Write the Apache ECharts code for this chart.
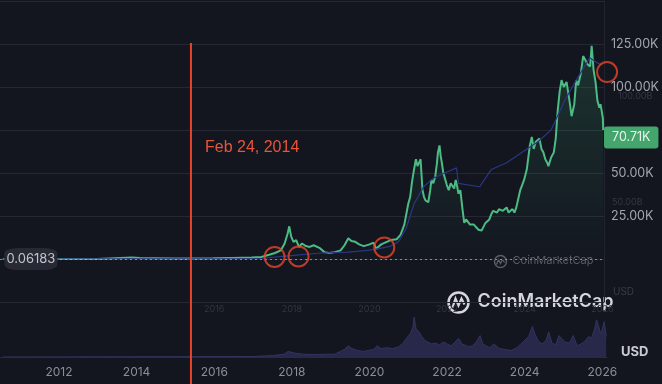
<!DOCTYPE html>
<html><head><meta charset="utf-8">
<script src="https://cdn.jsdelivr.net/npm/echarts@6/dist/echarts.min.js"></script>
<style>html,body{margin:0;padding:0;background:#13151f;}#c{width:662px;height:384px;}</style>
</head><body><div id="c"></div>
<script>
// ---- data ----
const priceYears = [2010.55,2012.0,2013.0,2013.9,2014.1,2014.5,2015.0,2015.5,2016.0,2016.5,2017.0,2017.25,2017.45,2017.6,2017.75,2017.85,2017.93,2017.97,2018.02,2018.08,2018.15,2018.22,2018.3,2018.4,2018.5,2018.6,2018.75,2018.88,2019.0,2019.15,2019.3,2019.4,2019.5,2019.58,2019.68,2019.78,2019.9,2020.05,2020.15,2020.22,2020.35,2020.45,2020.6,2020.75,2020.85,2020.95,2021.05,2021.1,2021.15,2021.2,2021.25,2021.29,2021.32,2021.37,2021.42,2021.46,2021.5,2021.57,2021.62,2021.65,2021.7,2021.75,2021.79,2021.82,2021.86,2021.89,2021.92,2021.96,2022.0,2022.05,2022.1,2022.15,2022.2,2022.24,2022.28,2022.32,2022.35,2022.4,2022.45,2022.5,2022.55,2022.6,2022.65,2022.7,2022.75,2022.8,2022.87,2022.95,2023.0,2023.05,2023.1,2023.15,2023.2,2023.25,2023.3,2023.35,2023.4,2023.45,2023.5,2023.55,2023.6,2023.65,2023.7,2023.75,2023.8,2023.85,2023.9,2023.95,2024.0,2024.05,2024.12,2024.2,2024.25,2024.3,2024.35,2024.4,2024.45,2024.5,2024.55,2024.6,2024.65,2024.68,2024.75,2024.82,2024.87,2024.92,2024.97,2025.02,2025.08,2025.15,2025.22,2025.28,2025.35,2025.4,2025.45,2025.52,2025.58,2025.63,2025.7,2025.76,2025.8,2025.85,2025.9,2025.95,2026.0,2026.03,2026.06,2026.09,2026.1];
const priceK = [0,0.01,0.05,0.9,0.6,0.5,0.3,0.25,0.4,0.65,0.9,1.2,2.5,3.5,5,9,15,19,13,10,11,7,9,7.5,7,8,6.5,4,3.5,4,5,8,12,10.5,10,8.5,7.5,8.5,9.5,6,8.5,9.5,11,11.5,14,20,32,36,45,52,58,54,55,58,40,36,34,33,40,46,44,48,55,62,66,60,56,50,47,43,40,44,44,41,46,42,38,40,30,21,23,22,20,21,20,19.5,17,16.5,17,21,22,23,26,28,27,27,29,30,28,29,30,27,26,29,27,30,35,40,43,46,52,66,71,64,68,68,70,64,62,58,56,54,59,62,70,86,97,104,100,103,93,83,90,104,101,108,118,117,113,112,124,110,103,92,88,90,91,82,75,70.71];
const maYears = [2010.55,2017.2,2017.8,2018.3,2018.8,2019.5,2020.0,2020.3,2020.6,2020.8,2021.0,2021.2,2021.45,2021.7,2021.9,2022.1,2022.3,2022.35,2022.9,2023.2,2023.6,2024.0,2024.4,2024.75,2025.1,2025.4,2025.75,2025.95,2026.05];
const maK = [0,0.3,1.5,2.5,3.5,4,5,6,7.5,10,18,32,42,47,49,51,53,44,42,52,56,62,68,75,92,104,117,114,113];
const volYears = [2010.55,2017.0,2017.5,2017.8,2017.9,2017.95,2018.0,2018.1,2018.3,2018.6,2018.9,2019.1,2019.25,2019.35,2019.45,2019.55,2019.7,2019.85,2019.95,2020.1,2020.2,2020.3,2020.45,2020.6,2020.75,2020.85,2020.95,2021.05,2021.12,2021.15,2021.2,2021.28,2021.35,2021.42,2021.5,2021.6,2021.7,2021.8,2021.9,2022.0,2022.1,2022.2,2022.3,2022.38,2022.45,2022.55,2022.65,2022.75,2022.85,2022.92,2023.0,2023.1,2023.2,2023.35,2023.5,2023.65,2023.8,2023.9,2024.0,2024.1,2024.2,2024.25,2024.35,2024.45,2024.55,2024.62,2024.7,2024.8,2024.88,2024.95,2025.05,2025.15,2025.25,2025.35,2025.45,2025.55,2025.65,2025.72,2025.8,2025.85,2025.9,2025.95,2026.0,2026.05,2026.1];
const volValues = [0,0.5,1.5,3,6,7,5,4,3,2.5,3,3,6,8,12,9,7,6,7,8,12,9,10,9,11,14,20,25,32,43,30,27,22,18,16,14,15,13,16,14,12,16,20,14,13,11,12,16,23,14,12,10,14,9,8,7,10,14,18,22,33,26,17,14,18,27,15,13,23,20,16,15,23,12,14,17,22,20,30,40,34,25,30,38,22];
const yearLabels = [2012,2014,2016,2018,2020,2022,2024,2026];
const ghostYearLabels = [2016,2018,2020,2022,2024,2026];
const priceTickLabels = {25000:'25.00K',50000:'50.00K',100000:'100.00K',125000:'125.00K'};
const lastPrice = 70710, lastPriceLabel = '70.71K';
const refPrice = 0.06183, refPriceLabel = '0.06183';
const eventX = [2015.4, 2015.4], eventY = [0, 1], eventLabel = 'Feb 24, 2014';
const circleYears = [2017.59, 2018.21, 2020.43, 2026.2];
const circleK = [1.2, 1.5, 6.7, 108.7];

const xMin = 2010.48, xMax = 2026.12;
const zip = (a, b, m) => a.map((v, i) => [v, b[i] * (m || 1)]);

const chart = echarts.init(document.getElementById('c'), null, {renderer: 'canvas'});
const gridLine = '#252833';
const option = {
  backgroundColor: '#13151f',
  animation: false,
  grid: [
    {left: 0, right: 55, top: 1, bottom: 82},
    {left: 0, right: 55, top: 303, bottom: 27},
    {left: 0, right: 55, top: 43, bottom: 0}
  ],
  xAxis: [
    {type: 'value', gridIndex: 0, min: xMin, max: xMax, show: false},
    {type: 'value', gridIndex: 1, min: xMin, max: xMax, position: 'bottom',
     axisLine: {show: true, lineStyle: {color: '#2a2d38'}}, axisTick: {show: false}, splitLine: {show: false},
     axisLabel: {customValues: yearLabels, color: '#8b8e97', fontSize: 12, fontFamily: 'Inter', margin: 9, formatter: v => String(Math.round(v))}},
    {type: 'value', gridIndex: 1, min: xMin, max: xMax, position: 'top',
     axisLine: {show: false}, axisTick: {show: false}, splitLine: {show: false},
     axisLabel: {customValues: ghostYearLabels, inside: true, color: '#333642', fontSize: 9, fontFamily: 'Inter', margin: 2, formatter: v => String(Math.round(v))}},
    {type: 'value', gridIndex: 2, min: xMin, max: xMax, show: false}
  ],
  yAxis: [
    {type: 'value', gridIndex: 0, position: 'right', min: -25000, max: 150000, interval: 25000,
     axisLine: {show: true, lineStyle: {color: '#22252f'}}, axisTick: {show: false},
     splitLine: {show: true, lineStyle: {color: gridLine, width: 1}},
     axisLabel: {color: '#a3a6ae', fontSize: 12.5, fontFamily: 'Inter', margin: 7,
       formatter: v => priceTickLabels[v] || ''}},
    {type: 'value', gridIndex: 1, min: 0, max: 58, show: false},
    {type: 'value', gridIndex: 2, min: 0, max: 1, show: false}
  ],
  series: [
    {type: 'line', name: 'volume', xAxisIndex: 1, yAxisIndex: 1, data: zip(volYears, volValues),
     showSymbol: false, lineStyle: {color: '#333460', width: 1}, areaStyle: {color: '#27284a', opacity: 1}, z: 1},
    {type: 'line', name: 'price', xAxisIndex: 0, yAxisIndex: 0, data: zip(priceYears, priceK, 1000),
     showSymbol: false, lineStyle: {color: '#4dbb84', width: 2},
     areaStyle: {color: new echarts.graphic.LinearGradient(0, 0, 0, 1, [
       {offset: 0, color: 'rgba(62,170,112,0.30)'}, {offset: 1, color: 'rgba(62,170,112,0.02)'}])},
     z: 3,
     markLine: {symbol: 'none', silent: true, data: [
       {yAxis: refPrice, lineStyle: {type: [2, 3], color: 'rgba(220,222,228,0.55)', width: 1}, label: {show: false}},
       {yAxis: lastPrice, lineStyle: {color: 'rgba(0,0,0,0)', width: 0},
        label: {show: true, position: 'end', distance: 0, formatter: lastPriceLabel, color: '#e6f4ea', fontSize: 12.5,
          fontFamily: 'Inter', backgroundColor: '#44a56d', padding: [5, 8, 4, 8], borderRadius: 3}}
     ]},
     markPoint: {silent: true, data: [
       {coord: [2011.28, refPrice], symbol: 'roundRect', symbolSize: [53, 22], itemStyle: {color: '#272a35'},
        label: {show: true, position: 'inside', formatter: refPriceLabel, color: '#c3c5cc', fontSize: 13, fontFamily: 'Inter'}}
     ]}},
    {type: 'line', name: 'ma', xAxisIndex: 0, yAxisIndex: 0, data: zip(maYears, maK, 1000),
     showSymbol: false, lineStyle: {color: '#2c3685', width: 1.2}, z: 4},
    {type: 'scatter', name: 'circles', xAxisIndex: 0, yAxisIndex: 0, data: zip(circleYears, circleK, 1000),
     symbolSize: 20, clip: false, itemStyle: {color: 'rgba(0,0,0,0)', borderColor: '#e8452c', borderWidth: 2}, z: 6},
    {type: 'line', name: 'event', xAxisIndex: 3, yAxisIndex: 2, data: zip(eventX, eventY),
     showSymbol: false, lineStyle: {color: '#e8452c', width: 2}, z: 7}
  ],
  graphic: [
    {type: 'text', left: 205, top: 140, z: 10, style: {text: eventLabel, fill: '#e8553a', font: '16px "Liberation Sans", Arial, sans-serif'}},
    {type: 'text', left: 618, top: 92, z: 10, style: {text: '100.00B', fill: '#353845', font: '9px Inter, sans-serif'}},
    {type: 'text', left: 612, top: 198, z: 10, style: {text: '50.00B', fill: '#353845', font: '9px Inter, sans-serif'}},
    {type: 'text', left: 613, top: 287, z: 10, style: {text: 'USD', fill: '#3a3d4a', font: '10px Inter, sans-serif'}},
    {type: 'text', left: 621, top: 346, z: 10, style: {text: 'USD', fill: '#c9cbd1', font: 'bold 13px Inter, sans-serif'}},
    {type: 'group', left: 492, top: 253, z: 10, children: [
      {type: 'circle', shape: {cx: 7, cy: 7, r: 6}, style: {fill: 'none', stroke: '#5a5d69', lineWidth: 1.5}},
      {type: 'polyline', shape: {points: [[3, 10], [5, 5], [7, 9], [9, 5], [11, 8]]}, style: {fill: 'none', stroke: '#5a5d69', lineWidth: 1.3}},
      {type: 'text', x: 19, y: 1, style: {text: 'CoinMarketCap', fill: '#5a5d69', font: '11px Inter, sans-serif'}}
    ]},
    {type: 'group', left: 446, top: 290, z: 10, children: [
      {type: 'circle', shape: {cx: 12, cy: 12, r: 10}, style: {fill: 'none', stroke: '#d4d6dc', lineWidth: 2.5}},
      {type: 'polyline', shape: {points: [[6, 17], [9, 8], [12, 15], [15, 8], [18, 14]]}, style: {fill: 'none', stroke: '#d4d6dc', lineWidth: 2.2}},
      {type: 'text', x: 31, y: 2, style: {text: 'CoinMarketCap', fill: '#d4d6dc', font: '600 18px Inter, sans-serif'}}
    ]}
  ]
};
chart.setOption(option);
</script>
</body></html>
